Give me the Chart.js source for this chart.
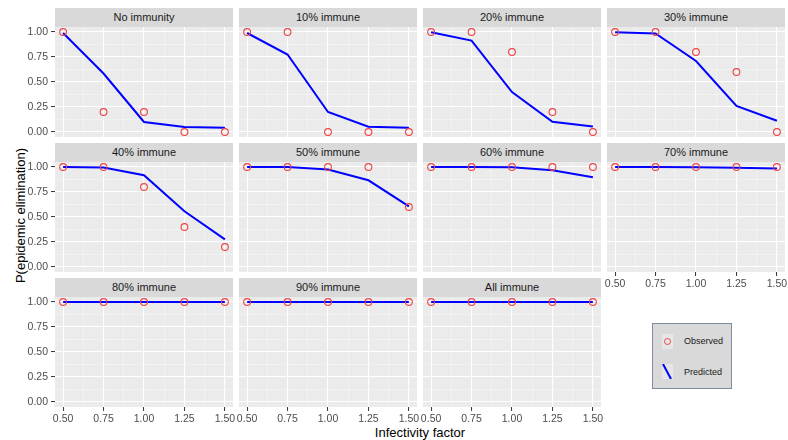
<!DOCTYPE html>
<html><head><meta charset="utf-8">
<script src="https://cdn.jsdelivr.net/npm/chart.js@4/dist/chart.umd.min.js"></script>
<style>
html,body{margin:0;padding:0;background:#fff;}
#wrap{position:relative;width:788px;height:440px;overflow:hidden;font-family:"Liberation Sans",Arial,sans-serif;}
.strip{position:absolute;background:#d9d9d9;color:#1a1a1a;font-size:11px;text-align:center;}
canvas{position:absolute;}
#xtitle{position:absolute;left:320px;width:200px;top:425px;line-height:15px;font-size:13px;text-align:center;color:#000;}
#ytitle{position:absolute;left:-80px;width:200px;top:208px;height:15px;line-height:15px;font-size:13px;text-align:center;color:#000;transform:rotate(-90deg);transform-origin:center center;}
#legend{position:absolute;left:652px;top:323px;width:78px;height:64px;background:#d9d9d9;border:1px solid #7f8ca3;font-size:9px;color:#1a1a1a;}
.key{position:absolute;left:9px;width:11px;height:15px;background:#e6e6e6;overflow:hidden;}
.ltxt{position:absolute;left:31px;line-height:12px;}
</style></head><body><div id="wrap">
<div id="xtitle">Infectivity factor</div>
<div id="ytitle">P(epidemic elimination)</div>
<div id="legend">
  <div class="key" style="top:10px;"><div style="position:absolute;left:2px;top:4px;width:5px;height:5px;border:1px solid #ee4444;border-radius:50%;"></div></div>
  <div class="ltxt" style="top:11px;">Observed</div>
  <div class="key" style="top:40px;"><div style="position:absolute;left:4px;top:-1px;width:2px;height:17px;background:#0000ff;transform:rotate(-28deg);"></div></div>
  <div class="ltxt" style="top:42px;">Predicted</div>
</div>
</div>
<script>
const xValues = [0.5, 0.75, 1.0, 1.25, 1.5];
const xTicks = [0.5, 0.75, 1.0, 1.25, 1.5];
const yTicks = [0, 0.25, 0.5, 0.75, 1.0];
const panelTitles = ['No immunity','10% immune','20% immune','30% immune','40% immune','50% immune','60% immune','70% immune','80% immune','90% immune','All immune'];

const obsNone = [1.0, 0.2, 0.2, 0.0, 0.0];
const predNone = [0.99, 0.585, 0.10, 0.05, 0.043];
const obs10 = [1.0, 1.0, 0.0, 0.0, 0.0];
const pred10 = [0.99, 0.775, 0.20, 0.053, 0.043];
const obs20 = [1.0, 1.0, 0.8, 0.2, 0.0];
const pred20 = [0.997, 0.914, 0.40, 0.103, 0.056];
const obs30 = [1.0, 1.0, 0.8, 0.6, 0.0];
const pred30 = [0.997, 0.985, 0.71, 0.26, 0.113];
const obs40 = [1.0, 1.0, 0.8, 0.4, 0.2];
const pred40 = [1.0, 0.995, 0.917, 0.558, 0.276];
const obs50 = [1.0, 1.0, 1.0, 1.0, 0.6];
const pred50 = [1.0, 1.0, 0.975, 0.867, 0.607];
const obs60 = [1.0, 1.0, 1.0, 1.0, 1.0];
const pred60 = [1.0, 1.0, 0.998, 0.968, 0.897];
const obs70 = [1.0, 1.0, 1.0, 1.0, 1.0];
const pred70 = [1.0, 1.0, 0.998, 0.993, 0.985];
const obs80 = [1.0, 1.0, 1.0, 1.0, 1.0];
const pred80 = [1.0, 1.0, 1.0, 1.0, 1.0];
const obs90 = [1.0, 1.0, 1.0, 1.0, 1.0];
const pred90 = [1.0, 1.0, 1.0, 1.0, 1.0];
const obsAll = [1.0, 1.0, 1.0, 1.0, 1.0];
const predAll = [1.0, 1.0, 1.0, 1.0, 1.0];

const observedList = [obsNone, obs10, obs20, obs30, obs40, obs50, obs60, obs70, obs80, obs90, obsAll];
const predictedList = [predNone, pred10, pred20, pred30, pred40, pred50, pred60, pred70, pred80, pred90, predAll];

const M = 14, PANEL_W = 178, PLOT_H = 110, STRIP_H = 19, Y_W = 55, X_H = 22;
const COL_LEFT = [55, 239, 423, 607];
const ROW_TOP = [8, 143, 278];

function withMinor(arr){
  const out = arr.slice();
  for (let i = 0; i < arr.length - 1; i++) out.push((arr[i] + arr[i+1]) / 2);
  return out.sort((a,b)=>a-b);
}
function isIn(arr, v){ return arr.some(m => Math.abs(m - v) < 1e-9); }
const xGrid = withMinor(xTicks), yGrid = withMinor(yTicks);
const wrap = document.getElementById('wrap');

panelTitles.forEach((title, i) => {
  const col = i % 4, row = Math.floor(i / 4);
  const showY = col === 0;
  const showX = row === 2 || (row === 1 && col === 3);
  const strip = document.createElement('div');
  strip.className = 'strip';
  strip.style.left = COL_LEFT[col] + 'px';
  strip.style.top = ROW_TOP[row] + 'px';
  strip.style.width = PANEL_W + 'px';
  strip.style.height = STRIP_H + 'px';
  strip.style.lineHeight = STRIP_H + 'px';
  strip.textContent = title;
  wrap.appendChild(strip);

  const cv = document.createElement('canvas');
  const w = PANEL_W + 2*M + (showY ? Y_W : 0);
  const h = PLOT_H + 2*M + (showX ? X_H : 0);
  cv.width = w; cv.height = h;
  cv.style.width = w + 'px'; cv.style.height = h + 'px';
  cv.style.left = (COL_LEFT[col] - M - (showY ? Y_W : 0)) + 'px';
  cv.style.top = (ROW_TOP[row] + STRIP_H - M) + 'px';
  wrap.appendChild(cv);

  const bgPlugin = {
    id: 'panelBg',
    beforeDraw(chart){
      const a = chart.chartArea, c = chart.ctx;
      c.save(); c.fillStyle = '#ebebeb';
      c.fillRect(a.left, a.top, a.right - a.left, a.bottom - a.top);
      c.restore();
    }
  };
  const tickFont = {family: '"Liberation Sans", Arial, sans-serif', size: 10.5};
  new Chart(cv, {
    type: 'scatter',
    data: {
      datasets: [
        { label: 'Observed', data: xValues.map((x,k)=>({x, y: observedList[i][k]})),
          showLine: false, pointRadius: 3.4, pointHoverRadius: 3.4, pointBorderWidth: 1.1,
          pointBorderColor: '#ee4444', pointBackgroundColor: 'rgba(0,0,0,0)',
          borderColor: '#ee4444', backgroundColor: 'rgba(0,0,0,0)', clip: false, order: 1 },
        { label: 'Predicted', data: xValues.map((x,k)=>({x, y: predictedList[i][k]})),
          showLine: true, borderColor: '#0000ff', borderWidth: 2, pointRadius: 0, pointHoverRadius: 0,
          tension: 0, clip: false, order: 2 }
      ]
    },
    options: {
      responsive: false, animation: false, devicePixelRatio: 1,
      layout: { padding: { left: M, right: M, top: M, bottom: M } },
      plugins: { legend: { display: false }, tooltip: { enabled: false } },
      events: [],
      scales: {
        x: {
          type: 'linear', min: 0.45, max: 1.55,
          afterBuildTicks: s => { s.ticks = xGrid.map(v => ({value: v})); },
          afterFit: s => { s.height = showX ? X_H : 0; s.paddingLeft = 0; s.paddingRight = 0; },
          border: { display: false },
          grid: {
            drawTicks: showX, tickLength: 4,
            color: c => isIn(xTicks, c.tick.value) ? '#ffffff' : '#f7f7f7',
            lineWidth: c => isIn(xTicks, c.tick.value) ? 1.1 : 0.55,
            tickColor: c => isIn(xTicks, c.tick.value) ? '#333333' : 'rgba(0,0,0,0)',
            tickWidth: 1
          },
          ticks: {
            display: showX, autoSkip: false, maxRotation: 0, minRotation: 0, padding: 2,
            color: '#4d4d4d', font: tickFont,
            callback: v => isIn(xTicks, v) ? v.toFixed(2) : ''
          }
        },
        y: {
          type: 'linear', min: -0.05, max: 1.05,
          afterBuildTicks: s => { s.ticks = yGrid.map(v => ({value: v})); },
          afterFit: s => { s.width = showY ? Y_W : 0; s.paddingTop = 0; s.paddingBottom = 0; },
          border: { display: false },
          grid: {
            drawTicks: showY, tickLength: 4,
            color: c => isIn(yTicks, c.tick.value) ? '#ffffff' : '#f7f7f7',
            lineWidth: c => isIn(yTicks, c.tick.value) ? 1.1 : 0.55,
            tickColor: c => isIn(yTicks, c.tick.value) ? '#333333' : 'rgba(0,0,0,0)',
            tickWidth: 1
          },
          ticks: {
            display: showY, autoSkip: false, padding: 3,
            color: '#4d4d4d', font: tickFont,
            callback: v => isIn(yTicks, v) ? v.toFixed(2) : ''
          }
        }
      }
    },
    plugins: [bgPlugin]
  });
});
</script>
</body></html>
